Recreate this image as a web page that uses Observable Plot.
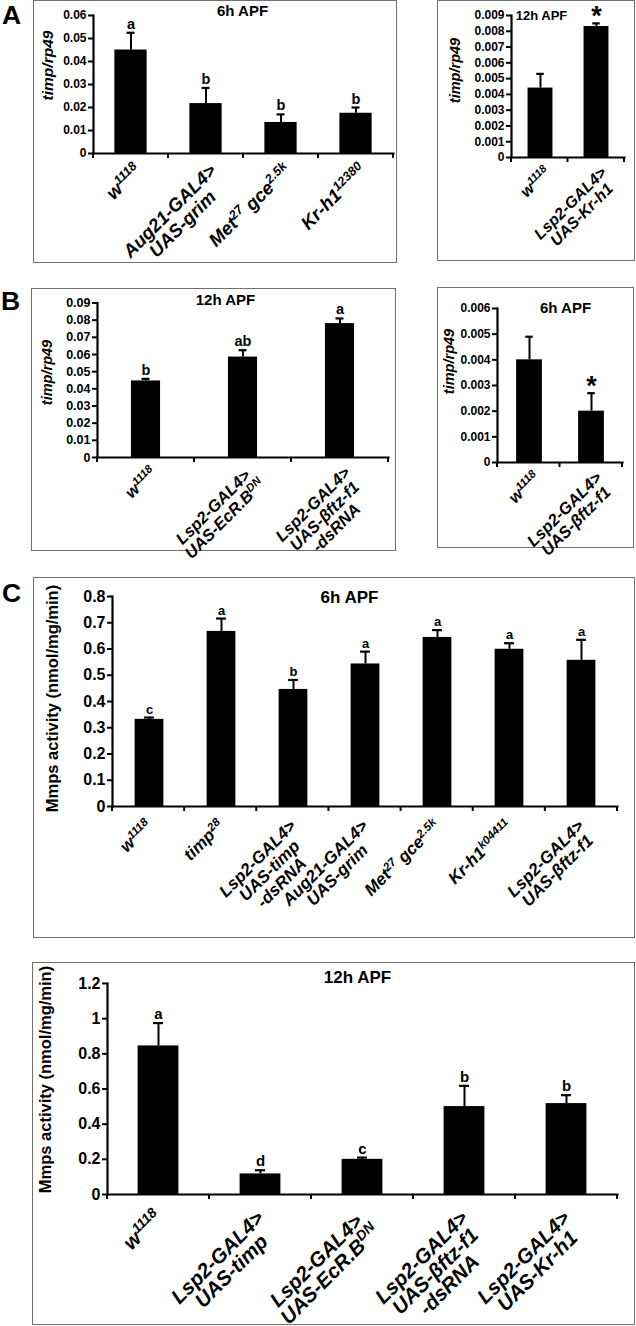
<!DOCTYPE html>
<html><head><meta charset="utf-8">
<script src="https://cdn.jsdelivr.net/npm/d3@7"></script>
<script src="https://cdn.jsdelivr.net/npm/@observablehq/plot@0.6"></script>
<style>
body{margin:0;background:#fff;}
#page{position:relative;width:636px;height:1326px;overflow:hidden;background:#fff;}
.box{position:absolute;box-sizing:border-box;border:1.5px solid #707070;}
.holder{position:absolute;}
.holder svg{overflow:visible;display:block;}
.letter{position:absolute;font:bold 26.5px "Liberation Sans",Arial,sans-serif;line-height:1.1;color:#000;}
</style></head><body><div id="page"></div>
<script>
// ---------- DATA ----------
// Panel A (left) 6h APF
const catsA1 = ["w^{1118}", "Aug21-GAL4>\nUAS-grim", "Met^{27} gce^{2.5k}", "Kr-h1^{12380}"];
const valsA1 = [0.045, 0.0217, 0.0135, 0.0175];
const errsA1 = [0.0525, 0.0285, 0.017, 0.020];
const lettersA1 = ["a", "b", "b", "b"];
const ticksA1 = [0, 0.01, 0.02, 0.03, 0.04, 0.05, 0.06];
// Panel A (right) 12h APF
const catsA2 = ["w^{1118}", "Lsp2-GAL4>\nUAS-Kr-h1"];
const valsA2 = [0.0044, 0.0083];
const errsA2 = [0.0053, 0.0085];
const lettersA2 = ["", "*"];
const ticksA2 = [0, 0.001, 0.002, 0.003, 0.004, 0.005, 0.006, 0.007, 0.008, 0.009];
// Panel B (left) 12h APF
const catsB1 = ["w^{1118}", "Lsp2-GAL4>\nUAS-EcR.B^{DN}", "Lsp2-GAL4>\nUAS-βftz-f1\n-dsRNA"];
const valsB1 = [0.0446, 0.0585, 0.078];
const errsB1 = [0.0458, 0.0625, 0.081];
const lettersB1 = ["b", "ab", "a"];
const ticksB1 = [0, 0.01, 0.02, 0.03, 0.04, 0.05, 0.06, 0.07, 0.08, 0.09];
// Panel B (right) 6h APF
const catsB2 = ["w^{1118}", "Lsp2-GAL4>\nUAS-βftz-f1"];
const valsB2 = [0.004, 0.002];
const errsB2 = [0.0049, 0.0027];
const lettersB2 = ["", "*"];
const ticksB2 = [0, 0.001, 0.002, 0.003, 0.004, 0.005, 0.006];
// Panel C (top) 6h APF
const catsC1 = ["w^{1118}", "timp^{28}", "Lsp2-GAL4>\nUAS-timp\n-dsRNA", "Aug21-GAL4>\nUAS-grim", "Met^{27} gce^{2.5k}", "Kr-h1^{k04411}", "Lsp2-GAL4>\nUAS-βftz-f1"];
const valsC1 = [0.332, 0.667, 0.446, 0.543, 0.644, 0.599, 0.557];
const errsC1 = [0.339, 0.716, 0.482, 0.590, 0.672, 0.622, 0.635];
const lettersC1 = ["c", "a", "b", "a", "a", "a", "a"];
const ticksC1 = [0, 0.1, 0.2, 0.3, 0.4, 0.5, 0.6, 0.7, 0.8];
// Panel C (bottom) 12h APF
const catsC2 = ["w^{1118}", "Lsp2-GAL4>\nUAS-timp", "Lsp2-GAL4>\nUAS-EcR.B^{DN}", "Lsp2-GAL4>\nUAS-βftz-f1\n-dsRNA", "Lsp2-GAL4>\nUAS-Kr-h1"];
const valsC2 = [0.845, 0.117, 0.2, 0.5, 0.517];
const errsC2 = [0.975, 0.138, 0.21, 0.618, 0.565];
const lettersC2 = ["a", "d", "c", "b", "b"];
const ticksC2 = [0, 0.2, 0.4, 0.6, 0.8, 1, 1.2];

// ---------- RENDERING ----------
const FONT = "Liberation Sans, Arial, Helvetica, sans-serif";
const page = document.getElementById("page");

function supify(node) {
  const s = node.textContent;
  if (!s.includes("^{")) return;
  node.textContent = "";
  const re = /\^\{([^}]*)\}/g; let last = 0, m;
  while ((m = re.exec(s))) {
    if (m.index > last) node.appendChild(document.createTextNode(s.slice(last, m.index)));
    const t = document.createElementNS("http://www.w3.org/2000/svg", "tspan");
    t.setAttribute("baseline-shift", "super");
    t.style.fontSize = "0.68em";
    t.textContent = m[1];
    node.appendChild(t);
    last = re.lastIndex;
  }
  if (last < s.length) node.appendChild(document.createTextNode(s.slice(last)));
}

function panel(o) {
  const [bx0, by0, bx1, by1] = o.box;
  const W = bx1 - bx0, H = by1 - by0;
  const ml = o.ax - bx0, mr = bx1 - o.axEnd, mt = o.yTop - by0, mb = by1 - o.y0;
  const n = o.cats.length, bw = (o.axEnd - o.ax) / n;
  const data = o.cats.map((c, i) => ({c, v: o.vals[i], e: o.errs[i], l: o.letters[i]}));

  const box = document.createElement("div");
  box.className = "box";
  Object.assign(box.style, {left: bx0 + "px", top: by0 + "px", width: W + "px", height: H + "px"});
  page.appendChild(box);

  const chart = Plot.plot({
    width: W, height: H, marginLeft: ml, marginRight: mr, marginTop: mt, marginBottom: mb,
    style: {fontFamily: FONT, fontWeight: "bold", background: "transparent", color: "#000", overflow: "visible"},
    x: {domain: o.cats, padding: 0, axis: null},
    y: {domain: [0, d3.max(o.ticks)], axis: null},
    marks: [
      Plot.barY(data, {x: "c", y: "v", fill: "#000", insetLeft: bw * o.gap, insetRight: bw * o.gap}),
      Plot.ruleX(data, {x: "c", y1: "v", y2: "e", stroke: "#000", strokeWidth: 2}),
      Plot.tickY(data, {x: "c", y: "e", stroke: "#000", strokeWidth: 2.2, insetLeft: bw / 2 - o.cap, insetRight: bw / 2 - o.cap}),
      Plot.axisY({ticks: o.ticks, tickFormat: d => String(d), tickSize: 5, tickPadding: 2, strokeWidth: 2, fontSize: o.tickFont, fontWeight: "bold"}),
      Plot.frame({anchor: "left", stroke: "#000", strokeWidth: 2.2}),
      Plot.frame({anchor: "bottom", stroke: "#000", strokeWidth: 2.2}),
      Plot.text(data.filter(d => d.l !== "*"), {x: "c", y: "e", text: "l", lineAnchor: "bottom", dy: -4, fontSize: o.letterFont, fontWeight: "bold", fill: "#000"}),
      Plot.text(data.filter(d => d.l === "*"), {x: "c", y: "e", text: "l", lineAnchor: "bottom", dy: 2, fontSize: 27, fontWeight: "bold", fill: "#000"}),
      Plot.text(data, {x: "c", text: "c", frameAnchor: "bottom", rotate: -45, textAnchor: "end", lineAnchor: "top",
        dx: o.labDx, dy: o.labDy, fontSize: o.labFont, fontStyle: "italic", fontWeight: "bold", lineHeight: o.lh, fill: "#000"}),
      Plot.text([o.yt], {text: d => d, frameAnchor: "left", rotate: -90, textAnchor: "middle", lineAnchor: "middle",
        dx: o.ytX - bx0 - ml, dy: o.ytY - (by0 + (mt + H - mb) / 2), fontSize: o.ytFont, fontStyle: o.ytItalic ? "italic" : "normal", fontWeight: "bold", fill: "#000"}),
      Plot.text([o.title], {text: d => d, frameAnchor: "top-left", textAnchor: "middle", lineAnchor: "middle",
        dx: o.tX - bx0 - ml, dy: o.tY - by0 - mt, fontSize: o.titleFont, fontWeight: "bold", fill: "#000"})
    ]
  });

  const holder = document.createElement("div");
  holder.className = "holder";
  Object.assign(holder.style, {left: bx0 + "px", top: by0 + "px", width: W + "px", height: H + "px"});
  holder.appendChild(chart);
  page.appendChild(holder);

  // category-boundary tick marks on the x axis, from Plot's x scale
  const sx = chart.scale("x"), sy = chart.scale("y");
  const [r0, r1] = sx.range, yb = sy.range[0];
  const g = d3.select(chart).append("g").attr("stroke", "#000").attr("stroke-width", 2);
  for (let i = 0; i <= n; i++) {
    const x = r0 + i * (r1 - r0) / n;
    g.append("line").attr("x1", x).attr("x2", x).attr("y1", yb).attr("y2", yb + 5);
  }

  // superscripts + centred multi-line labels
  d3.select(chart).selectAll("text").each(function () {
    const lines = Array.from(this.children).filter(c => c.tagName === "tspan");
    if (lines.length === 0) { supify(this); return; }
    lines.forEach(supify);
    if (lines.length > 1) {
      const lens = lines.map(l => l.getComputedTextLength());
      const mx = Math.max(...lens);
      this.setAttribute("text-anchor", "middle");
      lines.forEach(l => l.setAttribute("x", -mx / 2));
    }
  });
}

function letter(t, x, y) {
  const d = document.createElement("div");
  d.className = "letter"; d.textContent = t;
  d.style.left = x + "px"; d.style.top = y + "px";
  page.appendChild(d);
}

panel({cats: catsA1, vals: valsA1, errs: errsA1, letters: lettersA1, ticks: ticksA1,
  box: [33, 0, 397, 263], ax: 93, axEnd: 393, yTop: 15, y0: 153, gap: 0.285, cap: 4,
  tickFont: 12, labFont: 18.5, letterFont: 14.5, lh: 1.0, labDx: 2, labDy: 9,
  yt: "timp/rp49", ytItalic: true, ytX: 48, ytY: 65, ytFont: 15.5,
  title: "6h APF", tX: 242, tY: 11, titleFont: 15});

panel({cats: catsA2, vals: valsA2, errs: errsA2, letters: lettersA2, ticks: ticksA2,
  box: [437, 0, 635, 261], ax: 511, axEnd: 624, yTop: 15, y0: 157, gap: 0.275, cap: 4,
  tickFont: 12, labFont: 16, letterFont: 14, lh: 1.0, labDx: 3, labDy: 8,
  yt: "timp/rp49", ytItalic: true, ytX: 455, ytY: 70, ytFont: 14.5,
  title: "12h APF", tX: 541, tY: 15, titleFont: 13});

panel({cats: catsB1, vals: valsB1, errs: errsB1, letters: lettersB1, ticks: ticksB1,
  box: [31, 288, 396, 551], ax: 97, axEnd: 388, yTop: 302.5, y0: 457, gap: 0.35, cap: 4,
  tickFont: 12.5, labFont: 16.5, letterFont: 14.5, lh: 1.0, labDx: 3, labDy: 8,
  yt: "timp/rp49", ytItalic: true, ytX: 47, ytY: 372, ytFont: 14.5,
  title: "12h APF", tX: 225, tY: 300, titleFont: 15});

panel({cats: catsB2, vals: valsB2, errs: errsB2, letters: lettersB2, ticks: ticksB2,
  box: [437, 287, 634, 548], ax: 497, axEnd: 622, yTop: 308, y0: 462, gap: 0.29, cap: 4,
  tickFont: 12, labFont: 16.5, letterFont: 14, lh: 1.0, labDx: 3, labDy: 8,
  yt: "timp/rp49", ytItalic: true, ytX: 449, ytY: 361, ytFont: 14.5,
  title: "6h APF", tX: 565, tY: 308, titleFont: 15});

panel({cats: catsC1, vals: valsC1, errs: errsC1, letters: lettersC1, ticks: ticksC1,
  box: [33, 577, 635, 938], ax: 112, axEnd: 617, yTop: 596, y0: 806, gap: 0.3, cap: 5,
  tickFont: 16, labFont: 17, letterFont: 13, lh: 1.0, labDx: -5, labDy: 12,
  yt: "Mmps activity (nmol/mg/min)", ytItalic: false, ytX: 52, ytY: 698, ytFont: 16.5,
  title: "6h APF", tX: 349, tY: 597, titleFont: 17});

panel({cats: catsC2, vals: valsC2, errs: errsC2, letters: lettersC2, ticks: ticksC2,
  box: [32, 962, 635, 1325], ax: 107, axEnd: 617, yTop: 983, y0: 1194, gap: 0.3, cap: 5,
  tickFont: 16, labFont: 20.5, letterFont: 15, lh: 0.95, labDx: -5, labDy: 15,
  yt: "Mmps activity (nmol/mg/min)", ytItalic: false, ytX: 45, ytY: 1079, ytFont: 16.5,
  title: "12h APF", tX: 357, tY: 977, titleFont: 17});

letter("A", 2, 1);
letter("B", 1, 287);
letter("C", 2, 579);
</script></body></html>
